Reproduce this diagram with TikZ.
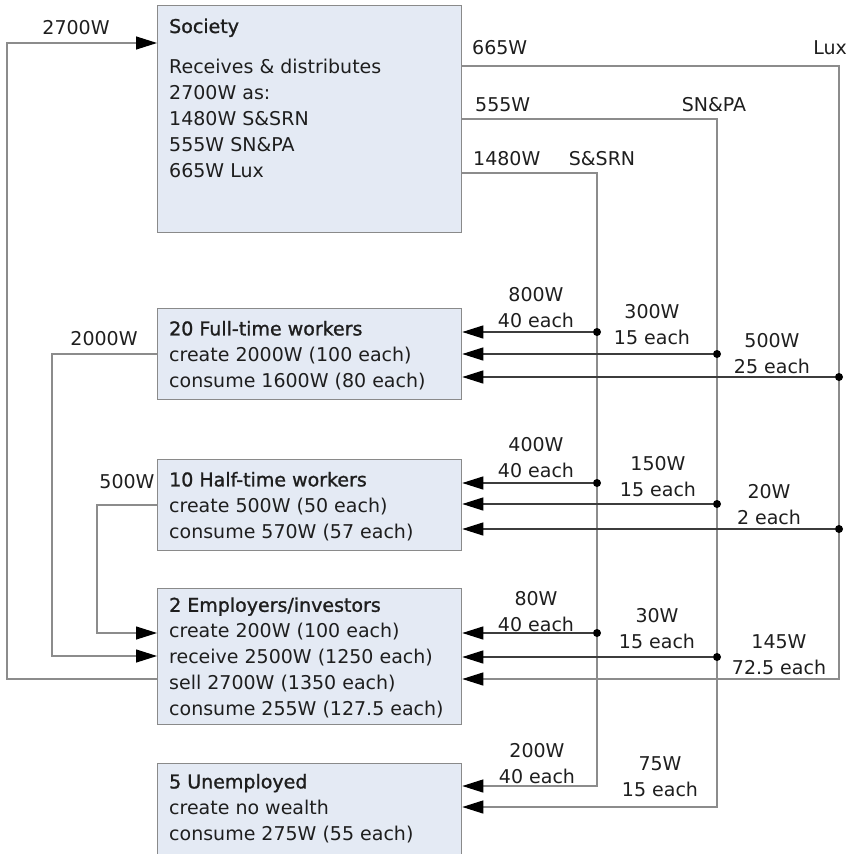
\documentclass[tikz,border=0pt]{standalone}
\usepackage{fontspec}
\setmainfont{DejaVu Sans}
\newfontfamily\titlefont{DejaVu Sans}[FakeBold=1.2]
\usetikzlibrary{arrows.meta}
\definecolor{boxfill}{HTML}{E4EAF4}
\definecolor{boxline}{HTML}{8A8A8A}
\definecolor{trunk}{HTML}{8C8C8C}
\definecolor{branch}{HTML}{3C3C3C}
\definecolor{ink}{HTML}{1E1E1E}

\begin{document}
\begin{tikzpicture}[x=1pt,y=-1pt,
  every node/.style={font=\fontsize{19}{25.8}\selectfont, text=ink, inner sep=0pt},
  box/.style={draw=boxline, fill=boxfill, line width=1.3pt, anchor=north west, minimum width=304pt},
  body/.style={anchor=base west, align=left},
  lbl/.style={anchor=base, align=center},
  tip/.style={-{Triangle[length=21pt,width=13pt,color=black]}},
  trunkline/.style={draw=trunk, line width=1.2pt},
  flow/.style={draw=branch, line width=1.2pt, tip},
  feed/.style={draw=trunk, line width=1.2pt, tip},
  jdot/.style={circle, fill=black, minimum size=8pt, inner sep=0pt}
]
\clip (0,0) rectangle (858,853);

% boxes
\node[box, minimum height=227pt] (soc) at (157,5) {};
\node[box, minimum height=91pt]  (ft)  at (157,308) {};
\node[box, minimum height=91pt]  (ht)  at (157,459) {};
\node[box, minimum height=136pt] (emp) at (157,588) {};
\node[box, minimum height=110pt] (un)  at (157,763) {};

% box texts (anchored at the baseline of their last line)
\node[body] (socT) at (169,33) {{\titlefont Society}};
\node[body] (socB) at (169,177) {Receives \& distributes\\2700W as:\\1480W S\&SRN\\555W SN\&PA\\665W Lux};
\node[body] (ftT) at (169,387) {{\titlefont 20 Full-time workers}\\create 2000W (100 each)\\consume 1600W (80 each)};
\node[body] (htT) at (169,538) {{\titlefont 10 Half-time workers}\\create 500W (50 each)\\consume 570W (57 each)};
\node[body] (empT) at (169,715) {{\titlefont 2 Employers/investors}\\create 200W (100 each)\\receive 2500W (1250 each)\\sell 2700W (1350 each)\\consume 255W (127.5 each)};
\node[body] (unT) at (169,840) {{\titlefont 5 Unemployed}\\create no wealth\\consume 275W (55 each)};

% distribution trunks leaving Society
\coordinate (luxT) at (839,66);  \coordinate (luxB) at (839,679);
\coordinate (snT)  at (717,119); \coordinate (snB)  at (717,807);
\coordinate (ssT)  at (597,173); \coordinate (ssB)  at (597,786);
\draw[trunkline, tip] (soc.east |- luxT) -- (luxT) -- (luxB) -- (luxB -| emp.east);
\draw[trunkline, tip] (soc.east |- snT) -- (snT) -- (snB) -- (snB -| un.east);
\draw[trunkline, tip] (soc.east |- ssT) -- (ssT) -- (ssB) -- (ssB -| un.east);

% branches with junction dots
\node[jdot] (ssF) at (597,332) {}; \draw[flow] (ssF) -- (ssF -| ft.east);
\node[jdot] (snF) at (717,354) {}; \draw[flow] (snF) -- (snF -| ft.east);
\node[jdot] (lxF) at (839,377) {}; \draw[flow] (lxF) -- (lxF -| ft.east);
\node[jdot] (ssH) at (597,483) {}; \draw[flow] (ssH) -- (ssH -| ht.east);
\node[jdot] (snH) at (717,504) {}; \draw[flow] (snH) -- (snH -| ht.east);
\node[jdot] (lxH) at (839,529) {}; \draw[flow] (lxH) -- (lxH -| ht.east);
\node[jdot] (ssE) at (597,633) {}; \draw[flow] (ssE) -- (ssE -| emp.east);
\node[jdot] (snE) at (717,657) {}; \draw[flow] (snE) -- (snE -| emp.east);

% returns on the left
\coordinate (r1a) at (7,679);  \coordinate (r1b) at (7,43);
\draw[feed] (emp.west |- r1a) -- (r1a) -- (r1b) -- (r1b -| soc.west);
\coordinate (r2a) at (52,354); \coordinate (r2b) at (52,656);
\draw[feed] (ft.west |- r2a) -- (r2a) -- (r2b) -- (r2b -| emp.west);
\coordinate (r3a) at (97,505); \coordinate (r3b) at (97,633);
\draw[feed] (ht.west |- r3a) -- (r3a) -- (r3b) -- (r3b -| emp.west);

% labels
\node[lbl] (l2700) at (76,35) {2700W};
\node[lbl] (l2000) at (104,345) {2000W};
\node[lbl] (l500) at (127,488) {500W};
\node[anchor=base west] (l665) at (472,55) {665W};
\node[anchor=base east] (lLux) at (847,55) {Lux};
\node[anchor=base west] (l555) at (475,112) {555W};
\node[lbl] (lSN) at (714,112) {SN\&PA};
\node[anchor=base west] (l1480) at (473,165) {1480W};
\node[lbl] (lSS) at (602,165) {S\&SRN};

\node[lbl] (aF1) at (536,327) {800W\\40 each};
\node[lbl] (aF2) at (652,344) {300W\\15 each};
\node[lbl] (aF3) at (772,373) {500W\\25 each};
\node[lbl] (aH1) at (536,477) {400W\\40 each};
\node[lbl] (aH2) at (658,496) {150W\\15 each};
\node[lbl] (aH3) at (769,524) {20W\\2 each};
\node[lbl] (aE1) at (536,631) {80W\\40 each};
\node[lbl] (aE2) at (657,648) {30W\\15 each};
\node[lbl] (aE3) at (779,674) {145W\\72.5 each};
\node[lbl] (aU1) at (537,783) {200W\\40 each};
\node[lbl] (aU2) at (660,796) {75W\\15 each};
\end{tikzpicture}
\end{document}
